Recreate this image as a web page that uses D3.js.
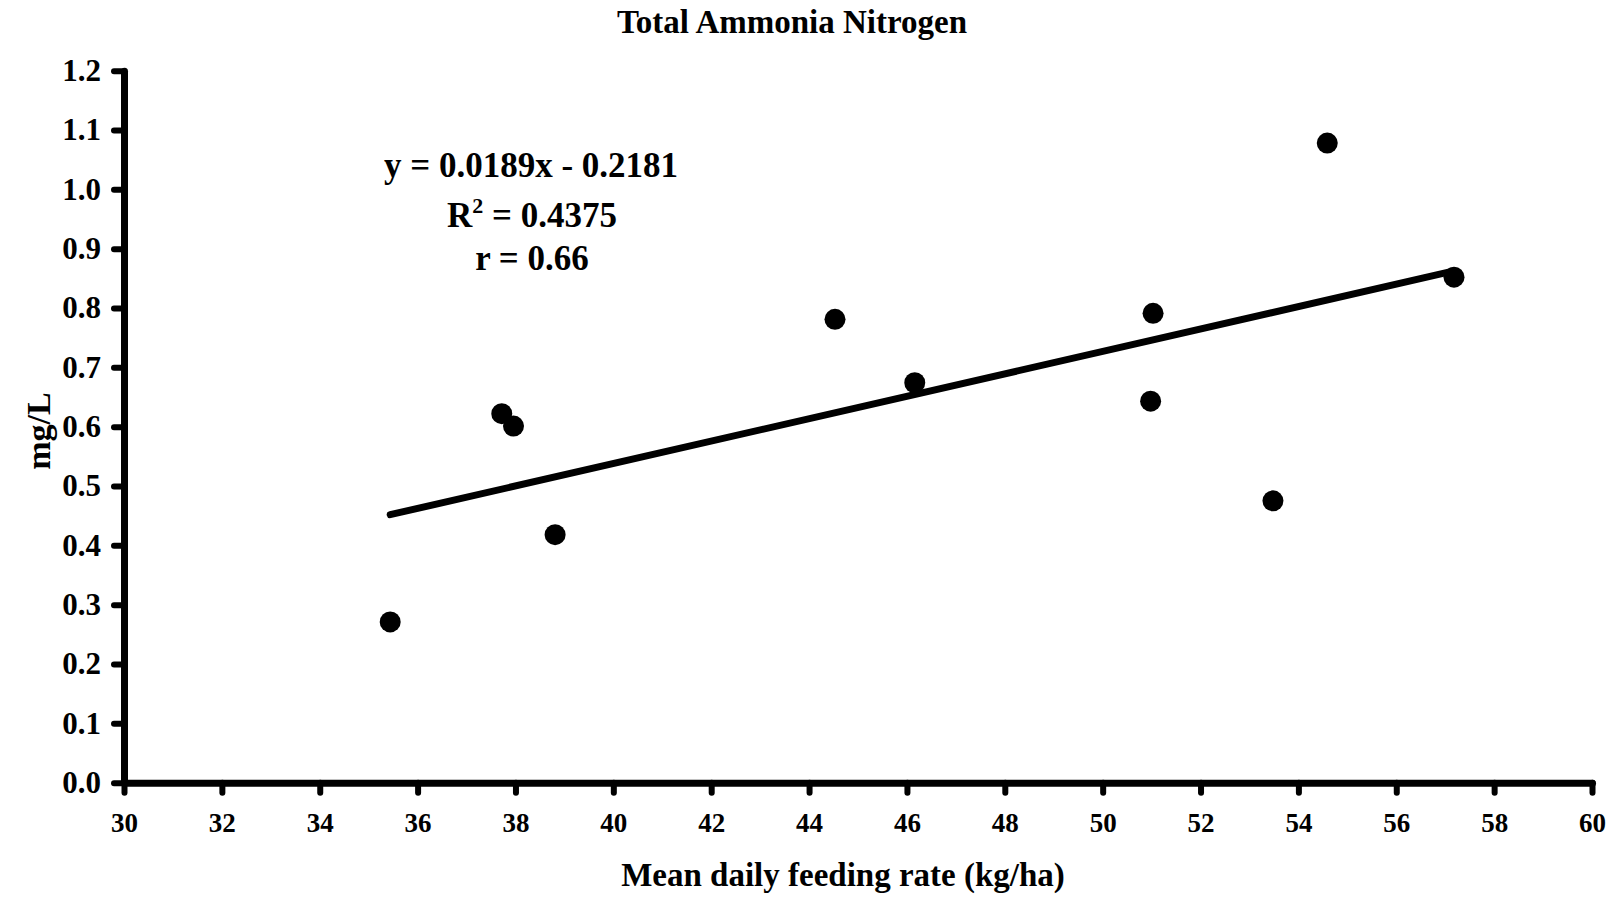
<!DOCTYPE html>
<html>
<head>
<meta charset="utf-8">
<script src="https://cdn.jsdelivr.net/npm/d3@7"></script>
<style>
  body { margin: 0; background: #fff; }
  svg text { font-family: "Liberation Serif", "Times New Roman", serif; font-weight: bold; fill: #000; }
</style>
</head>
<body>
<svg id="chart" width="1621" height="897"></svg>
<script>
// mean daily feeding rate (kg/ha) vs total ammonia nitrogen (mg/L)
var feedRate = [35.44, 37.72, 37.96, 38.81, 44.53, 46.16, 51.03, 50.98, 53.48, 54.59, 57.18];
var tan = [0.271, 0.622, 0.601, 0.418, 0.781, 0.674, 0.791, 0.643, 0.475, 1.078, 0.852];
var xTicks = [30, 32, 34, 36, 38, 40, 42, 44, 46, 48, 50, 52, 54, 56, 58, 60];
var yTicks = [0, 0.1, 0.2, 0.3, 0.4, 0.5, 0.6, 0.7, 0.8, 0.9, 1.0, 1.1, 1.2];
var slope = 0.0189, intercept = -0.2181;
var eqLines = ["y = 0.0189x - 0.2181", "R2 = 0.4375", "r = 0.66"];

var svg = d3.select("#chart");

var x = d3.scaleLinear().domain([30, 60]).range([124, 1592]);
var y = d3.scaleLinear().domain([0, 1.2]).range([782.7, 70.7]);

var xAxis = svg.append("g")
    .attr("transform", "translate(0," + y(0) + ")")
    .call(d3.axisBottom(x).tickValues(xTicks).tickSize(10).tickSizeOuter(0).tickPadding(20)
        .tickFormat(d3.format("d")));
xAxis.selectAll("text").style("font-size", "27px");

var yAxis = svg.append("g")
    .attr("transform", "translate(" + x(30) + ",0)")
    .call(d3.axisLeft(y).tickValues(yTicks).tickSize(10).tickSizeOuter(0).tickPadding(13)
        .tickFormat(d3.format(".1f")));
yAxis.selectAll("text").style("font-size", "31px").attr("dy", "0.32em");

svg.selectAll(".domain")
    .attr("stroke", "#000")
    .attr("stroke-width", 7)
    .attr("stroke-linecap", "round");
svg.selectAll(".tick line")
    .attr("stroke", "#000")
    .attr("stroke-width", 6)
    .attr("stroke-linecap", "round");

// trend line
var xr = d3.extent(feedRate);
svg.append("line")
    .attr("x1", x(xr[0]))
    .attr("y1", y(slope * xr[0] + intercept))
    .attr("x2", x(xr[1]))
    .attr("y2", y(slope * xr[1] + intercept))
    .attr("stroke", "#000")
    .attr("stroke-width", 7)
    .attr("stroke-linecap", "round");

svg.selectAll("circle")
    .data(feedRate)
    .enter()
    .append("circle")
    .attr("cx", function (d) { return x(d); })
    .attr("cy", function (d, i) { return y(tan[i]); })
    .attr("r", 10.5)
    .attr("fill", "#000");

// title and axis titles
svg.append("text")
    .attr("x", 792)
    .attr("y", 33)
    .attr("text-anchor", "middle")
    .style("font-size", "33px")
    .text("Total Ammonia Nitrogen");

svg.append("text")
    .attr("x", 843)
    .attr("y", 886)
    .attr("text-anchor", "middle")
    .style("font-size", "33px")
    .text("Mean daily feeding rate (kg/ha)");

svg.append("text")
    .attr("transform", "translate(50,431) rotate(-90)")
    .attr("text-anchor", "middle")
    .style("font-size", "34px")
    .text("mg/L");

// regression annotation
var eq = svg.append("g").attr("text-anchor", "middle").style("font-size", "35px");
eq.append("text").attr("x", 531).attr("y", 177).text(eqLines[0]);
var r2 = eq.append("text").attr("x", 532).attr("y", 227);
r2.append("tspan").text("R");
r2.append("tspan").attr("dy", -14).style("font-size", "22px").text("2");
r2.append("tspan").attr("dy", 14).text(" = 0.4375");
eq.append("text").attr("x", 532).attr("y", 270).text(eqLines[2]);
</script>
</body>
</html>
